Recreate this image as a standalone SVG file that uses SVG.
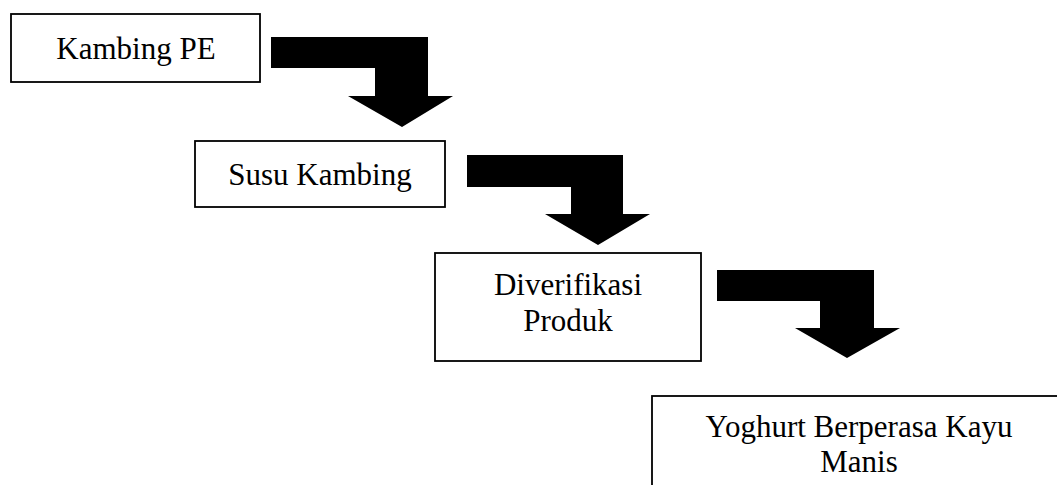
<svg xmlns="http://www.w3.org/2000/svg" width="1057" height="485" viewBox="0 0 1057 485">
<style>
.box{fill:#fff;stroke:#000;stroke-width:1.8}
.lbl{font-family:"Liberation Serif","Times New Roman",serif;font-size:31px;fill:#000;text-anchor:middle}
.arr{fill:#000;stroke:none}
</style>
<rect width="1057" height="485" fill="#fff"/>
<g id="connectors">
<polygon class="arr" points="271,37 428,37 428,96 453,96 402,127 348,96 375,96 375,68 271,68"/>
<polygon class="arr" points="467,155 623,155 623,214 650,214 598,245 545,214 571,214 571,187 467,187"/>
<polygon class="arr" points="717,270 874,270 874,328 900,328 847,358 795,328 820,328 820,301 717,301"/>
</g>
<g id="node-kambing-pe">
<rect class="box" x="11" y="14" width="249" height="68"/>
<text class="lbl" x="136" y="59">Kambing PE</text>
</g>
<g id="node-susu-kambing">
<rect class="box" x="195" y="141" width="250" height="66"/>
<text class="lbl" x="320" y="185">Susu Kambing</text>
</g>
<g id="node-diverifikasi">
<rect class="box" x="435" y="253" width="266" height="108"/>
<text class="lbl" x="568" y="295">Diverifikasi</text>
<text class="lbl" x="568" y="331">Produk</text>
</g>
<g id="node-yoghurt">
<rect class="box" x="652" y="396" width="420" height="100"/>
<text class="lbl" x="859" y="437">Yoghurt Berperasa Kayu</text>
<text class="lbl" x="859" y="472">Manis</text>
</g>
</svg>
